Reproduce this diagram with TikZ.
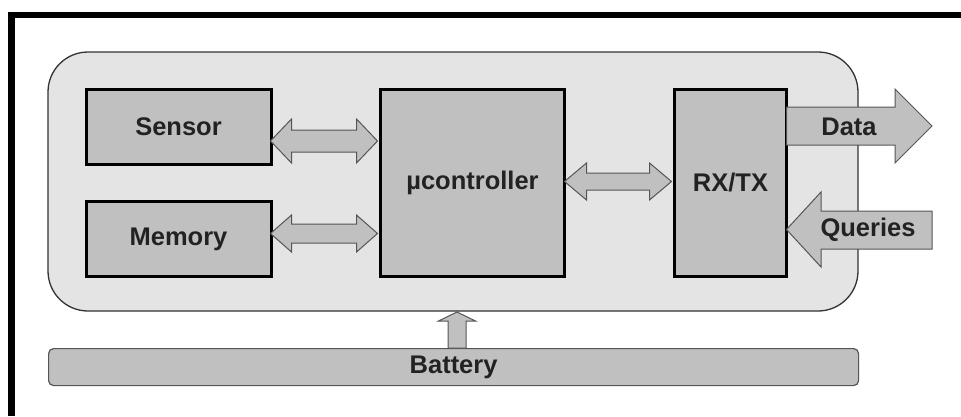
\documentclass[tikz,border=0pt]{standalone}
\usepackage{fontspec}
\setmainfont{Liberation Sans}
\definecolor{boxgray}{HTML}{C0C0C0}
\definecolor{panelgray}{HTML}{E4E4E4}
\definecolor{edgegray}{HTML}{555555}
\definecolor{txt}{HTML}{222222}
\tikzset{
  blockbox/.style={draw=black, line width=3pt, fill=boxgray, anchor=north west, inner sep=0pt,
    font=\fontsize{25.5}{28}\selectfont\bfseries, text=txt},
  blockarrow/.style={draw=edgegray, line width=1pt, fill=boxgray, line join=miter},
  lbl/.style={font=\fontsize{25.5}{28}\selectfont\bfseries, text=txt, inner sep=0pt}
}
% double arrow: x1, x2, yc, shaft half, head half, head length
\newcommand{\dblblock}[6]{%
  \filldraw[blockarrow] (#1,#3) -- (#1+#6,#3-#5) -- (#1+#6,#3-#4) -- (#2-#6,#3-#4) -- (#2-#6,#3-#5)
    -- (#2,#3) -- (#2-#6,#3+#5) -- (#2-#6,#3+#4) -- (#1+#6,#3+#4) -- (#1+#6,#3+#5) -- cycle;}
\begin{document}
\begin{tikzpicture}[x=1pt,y=-1pt]
\useasboundingbox (0,0) rectangle (961,416);
\fill[white] (0,0) rectangle (961,416);
% outer frame (cropped)
\draw[line width=6.5pt, line cap=butt, line join=miter] (11.5,416) -- (11.5,15) -- (961,15);
% container
\draw[draw=black!80, line width=1.3pt, fill=panelgray, rounded corners=40pt] (48,52) rectangle (858,311);
% battery
\node[draw=edgegray, line width=1.2pt, fill=boxgray, rounded corners=5pt, anchor=north west,
  minimum width=810pt, minimum height=37pt, inner sep=0pt, font=\fontsize{25.5}{28}\selectfont\bfseries, text=txt]
  (battery) at (48,348) {Battery};
% blocks
\node[blockbox, minimum width=185pt, minimum height=75pt] (sensor) at (84.5,88) {Sensor};
\node[blockbox, minimum width=185pt, minimum height=75pt] (memory) at (84.5,200) {Memory};
\node[blockbox, minimum width=184pt, minimum height=187pt] (mcu) at (379,88) {µcontroller};
\node[blockbox, minimum width=112pt, minimum height=187pt] (rxtx) at (673,88) {RX/TX};
% internal double arrows
\dblblock{270.5}{377.5}{141}{11}{22}{21}
\dblblock{270.5}{377.5}{233.5}{9.5}{18.5}{21}
\dblblock{564.5}{671.5}{181.5}{8.5}{18.5}{22}
% Data arrow (out)
\filldraw[blockarrow] (786.5,107) -- (895,107) -- (895,89) -- (932,126) -- (895,163) -- (895,145) -- (786.5,145) -- cycle;
\node[lbl] (data) at (849,127) {Data};
% Queries arrow (in)
\filldraw[blockarrow] (786.5,229.5) -- (821,192) -- (821,211) -- (932,211) -- (932,249) -- (821,249) -- (821,267) -- cycle;
\node[lbl] (queries) at (868,230) {Queries};
% battery arrow (up)
\filldraw[blockarrow] (448,348) -- (448,321) -- (438.5,321) -- (457,312) -- (475.5,321) -- (466,321) -- (466,348) -- cycle;
\end{tikzpicture}
\end{document}
